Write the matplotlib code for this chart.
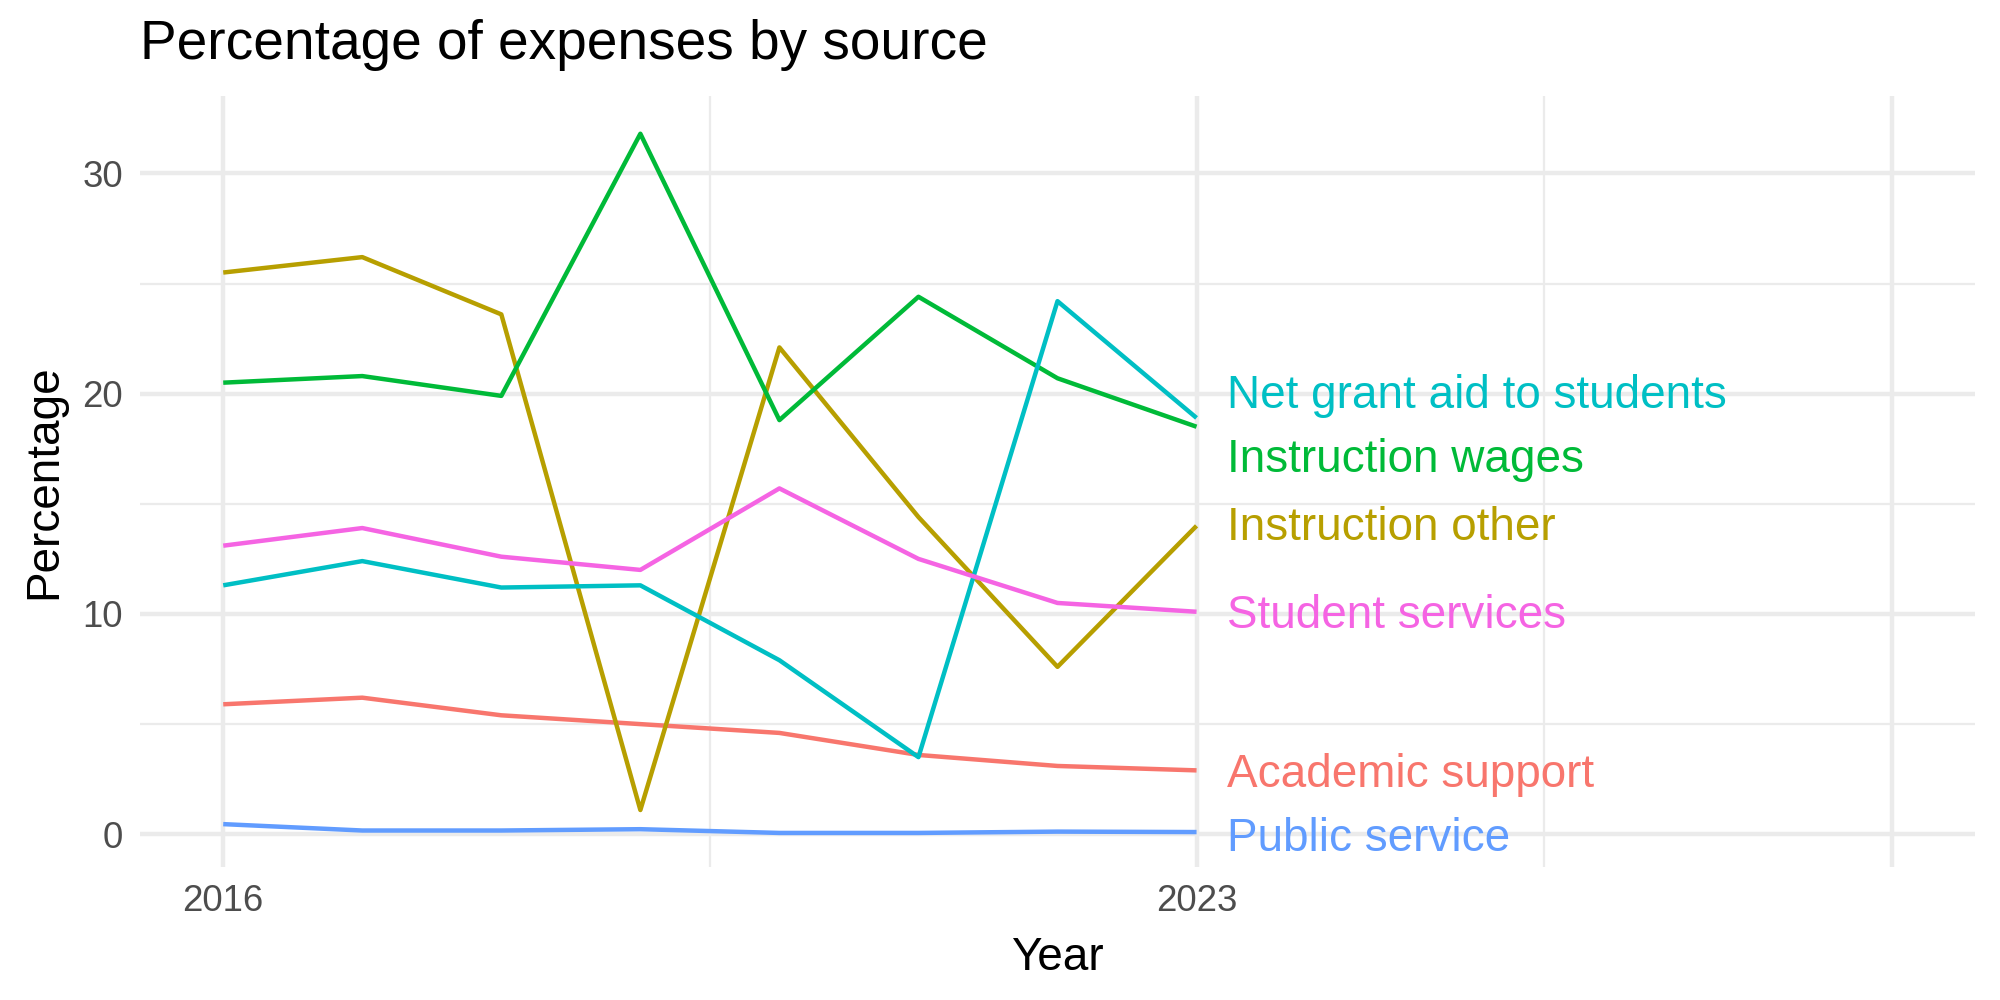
import matplotlib
matplotlib.use("Agg")
import matplotlib.pyplot as plt

plt.rcParams['font.family'] = ['Liberation Sans', 'DejaVu Sans']

years = [2016, 2017, 2018, 2019, 2020, 2021, 2022, 2023]

academic_support = [5.9, 6.2, 5.4, 5.0, 4.6, 3.6, 3.1, 2.9]
instruction_other = [25.5, 26.2, 23.6, 1.1, 22.1, 14.4, 7.6, 14.0]
instruction_wages = [20.5, 20.8, 19.9, 31.8, 18.8, 24.4, 20.7, 18.5]
net_grant_aid = [11.3, 12.4, 11.2, 11.3, 7.9, 3.5, 24.2, 18.9]
public_service = [0.46, 0.17, 0.17, 0.23, 0.06, 0.06, 0.12, 0.1]
student_services = [13.1, 13.9, 12.6, 12.0, 15.7, 12.5, 10.5, 10.1]

series_names = ["Academic support", "Instruction other", "Instruction wages",
                "Net grant aid to students", "Public service", "Student services"]
series_values = [academic_support, instruction_other, instruction_wages,
                 net_grant_aid, public_service, student_services]
series_colors = ["#F8766D", "#B79F00", "#00BA38", "#00BFC4", "#619CFF", "#F564E3"]
# label y after repel
label_y = [2.7, 13.9, 17.0, 19.9, -0.2, 9.9]

x_major = [2016, 2023, 2028]
x_labels = ["2016", "2023", ""]
x_minor = [2019.5, 2025.5]
y_major = [0, 10, 20, 30]
y_minor = [5, 15, 25]

fig = plt.figure(figsize=(2000 / 300, 1000 / 300), dpi=300)
ax = fig.add_axes([0.0699, 0.1327, 0.9177, 0.771])

for x in x_major:
    ax.axvline(x, color="#EBEBEB", lw=1.07, zorder=0)
for x in x_minor:
    ax.axvline(x, color="#EBEBEB", lw=0.53, zorder=0)
for y in y_major:
    ax.axhline(y, color="#EBEBEB", lw=1.07, zorder=0)
for y in y_minor:
    ax.axhline(y, color="#EBEBEB", lw=0.53, zorder=0)

for name, vals, col, ly in zip(series_names, series_values, series_colors, label_y):
    ax.plot(years, vals, color=col, lw=1.07, solid_capstyle="butt", zorder=2)
    ax.text(years[-1] + 0.22, ly, name, color=col, fontsize=11,
            ha="left", va="center", zorder=3)

ax.set_xlim(2015.4, 2028.6)
ax.set_ylim(-1.5, 33.5)
ax.set_xticks(x_major)
ax.set_xticklabels(x_labels)
ax.set_yticks(y_major)
ax.tick_params(length=0, labelsize=8.8, labelcolor="#4D4D4D", pad=4)
for s in ax.spines.values():
    s.set_visible(False)

ax.set_xlabel("Year", fontsize=11, labelpad=4)
ax.set_ylabel("Percentage", fontsize=11, labelpad=4)
fig.text(0.07, 0.955, "Percentage of expenses by source", fontsize=13.2,
         ha="left", va="center")

fig.savefig("out.png", dpi=300, facecolor="white")
